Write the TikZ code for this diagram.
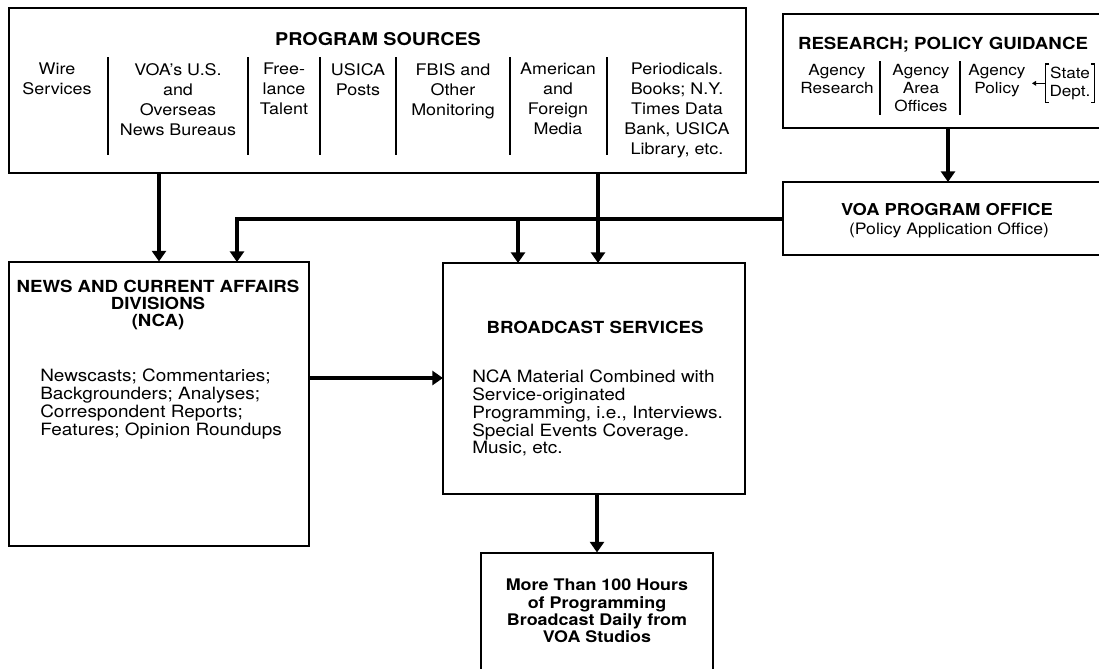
\documentclass[tikz,border=0pt]{standalone}
\usepackage{fontspec}
\setmainfont{TeX Gyre Heros}[FakeStretch=1.12]
\usetikzlibrary{arrows.meta, fit}

\begin{document}
\begin{tikzpicture}[x=0.75pt,y=0.75pt,yscale=-1,
    box/.style={draw, line width=0.8pt, inner sep=0pt},
    flow/.style={line width=3pt, -{Triangle[length=8pt,width=10.5pt]}},
    tinyflow/.style={line width=0.7pt, -{Triangle[length=3pt,width=3.5pt]}},
    rule/.style={line width=0.8pt},
    head/.style={font=\fontsize{12.5}{13}\selectfont\bfseries, inner sep=0pt, align=center},
    col/.style={font=\fontsize{12}{15}\selectfont, inner sep=0pt, align=center, anchor=north},
    smallcol/.style={font=\fontsize{11.5}{13.5}\selectfont, inner sep=0pt, align=center, anchor=north},
    body/.style={font=\fontsize{12.7}{13.3}\selectfont, inner sep=0pt, align=left, anchor=north west}]
        \useasboundingbox (0,0) rectangle (1099,668);

        %Shape: Rectangle [program sources]
        \node [box, fit={(9,8) (746,173)}] (src) {};
        %Shape: Rectangle [research]
        \node [box, fit={(783,14) (1101,128)}] (res) {};
        %Shape: Rectangle [program office]
        \node [box, fit={(783,182) (1101,255)}] (voa) {};
        %Shape: Rectangle [nca]
        \node [box, fit={(9,262) (309,546)}] (nca) {};
        %Shape: Rectangle [broadcast services]
        \node [box, fit={(443,263) (745,494)}] (bs) {};
        %Shape: Rectangle [output, open at the foot]
        \node [box, fit={(481,553) (713,690)}] (out) {};

        % Text Node
        \node [head, font=\fontsize{13.2}{14}\selectfont\bfseries] (srcT) at (378,39) {PROGRAM SOURCES};
        \node [col] (wire) at (57,63) {Wire\\Services};
        \node [col] (bureau) at (178,63) {VOA's U.S.\\and\\Overseas\\News Bureaus};
        \node [col] (free) at (284,63) {Free-\\lance\\Talent};
        \node [col] (posts) at (358,63) {USICA\\Posts};
        \node [col] (fbis) at (453,63) {FBIS and\\Other\\Monitoring};
        \node [col] (media) at (558,63) {American\\and\\Foreign\\Media};
        \node [col] (period) at (677,63) {Periodicals.\\Books; N.Y.\\Times Data\\Bank, USICA\\Library, etc.};
        \foreach \x in {108,248,320,396,510,607}
            \draw [rule] (\x,57) -- (\x,155);

        % Text Node
        \node [head] (resT) at (943,45) {RESEARCH; POLICY GUIDANCE};
        \node [smallcol] (agres) at (837,64) {Agency\\Research};
        \node [smallcol] (agarea) at (921,64) {Agency\\Area\\Offices};
        \node [smallcol] (policy) at (997,64) {Agency\\Policy};
        \node [smallcol, inner xsep=3pt, inner ysep=2pt] (state) at (1070,64) {State\\Dept.};
        \foreach \x in {880,960}
            \draw [rule] (\x,61) -- (\x,115);
        % brackets
        \draw [rule] ([xshift=3pt]state.north west) -- (state.north west) -- (state.south west) -- ([xshift=3pt]state.south west);
        \draw [rule] ([xshift=-3pt]state.north east) -- (state.north east) -- (state.south east) -- ([xshift=-3pt]state.south east);
        \coordinate (polTip) at (1032,85);
        \draw [tinyflow] (state.west) -- (state.west -| polTip);

        % Text Node
        \node [head, font=\fontsize{12.3}{13}\selectfont\bfseries] (voaT) at (947,210) {VOA PROGRAM OFFICE};
        \node [font=\fontsize{11.8}{13}\selectfont, inner sep=0pt] (voaS) at (949,230) {(Policy Application Office)};

        % Text Node
        \node [head] (ncaT) at (158,305) {NEWS AND CURRENT AFFAIRS\\DIVISIONS\\(NCA)};
        \node [body] (ncaB) at (40,369) {Newscasts; Commentaries;\\Backgrounders; Analyses;\\Correspondent Reports;\\Features; Opinion Roundups};

        % Text Node
        \node [head] (bsT) at (595,327) {BROADCAST SERVICES};
        \node [body] (bsB) at (472,370) {NCA Material Combined with\\Service-originated\\Programming, i.e., Interviews.\\Special Events Coverage.\\Music, etc.};

        % Text Node
        \node [head, font=\fontsize{12}{13}\selectfont\bfseries] (outT) at (597,611) {More Than 100 Hours\\of Programming\\Broadcast Daily from\\VOA Studios};

        % arrows
        \coordinate (ncaIn) at (237,262);
        \coordinate (bsIn) at (518,263);
        \coordinate (bsTop) at (598,263);
        \coordinate (voaIn) at (948,182);
        \coordinate (bsLeft) at (443,378);
        \draw [flow] (src.south -| nca.north) -- (nca.north);
        \draw [flow] (voa.west) -| (ncaIn);
        \draw [flow] (bsIn |- voa.west) -- (bsIn);
        \draw [flow] (src.south -| bsTop) -- (bsTop);
        \draw [flow] (res.south -| voaIn) -- (voaIn);
        \draw [flow] (nca.east |- bsLeft) -- (bsLeft);
        \draw [flow] (bs.south -| out.north) -- (out.north);

\end{tikzpicture}
\end{document}
